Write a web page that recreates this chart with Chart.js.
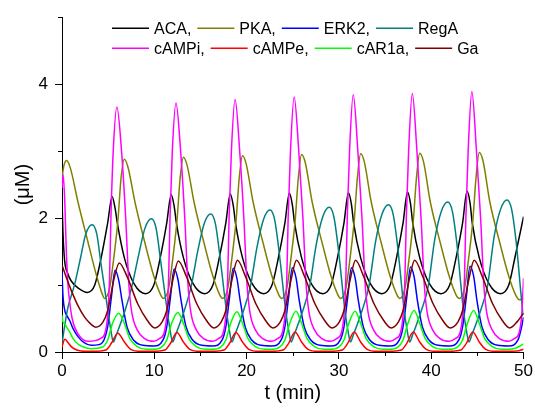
<!DOCTYPE html>
<html>
<head>
<meta charset="utf-8">
<script src="https://cdn.jsdelivr.net/npm/chart.js@4.4.1/dist/chart.umd.min.js"></script>
<style>
  body { margin: 0; background: #fff; }
  #wrap { width: 535px; height: 414px; }
</style>
</head>
<body>
<div id="wrap"><canvas id="chart" width="535" height="414"></canvas></div>
<script>
// series names as in the legend
const seriesNames = ['ACA,', 'PKA,', 'ERK2,', 'RegA', 'cAMPi,', 'cAMPe,', 'cAR1a,', 'Ga'];
const seriesColors = ['#000000', '#808000', '#0000ff', '#008080', '#ff00ff', '#ff0000', '#00ff00', '#800000'];

// [t (min), concentration (uM)]
const ACA = [[0,2.3],[0.1,1.8],[0.29,1.36],[0.6,1.18],[1.0,1.06],[1.8,0.95],[2.75,0.89],
  [3.55,1.0],[4.2,1.38],[4.95,1.93],[5.43,2.32],[5.75,2.15],[6.0,1.92],[6.75,1.41],[7.8,1.02],[9.05,0.87],
  [9.95,1.0],[10.6,1.38],[11.35,1.93],[11.83,2.35],[12.15,2.18],[12.4,1.92],[13.15,1.41],[14.2,1.02],[15.45,0.87],
  [16.35,1.0],[17.0,1.38],[17.75,1.93],[18.23,2.36],[18.55,2.19],[18.8,1.92],[19.55,1.41],[20.6,1.02],[21.85,0.87],
  [22.75,1.0],[23.4,1.38],[24.15,1.93],[24.63,2.37],[24.95,2.2],[25.2,1.92],[25.95,1.41],[27.0,1.02],[28.25,0.87],
  [29.15,1.0],[29.8,1.38],[30.55,1.93],[31.03,2.38],[31.35,2.21],[31.6,1.92],[32.35,1.41],[33.4,1.02],[34.65,0.87],
  [35.55,1.0],[36.2,1.38],[36.95,1.93],[37.43,2.39],[37.75,2.22],[38.0,1.92],[38.75,1.41],[39.8,1.02],[41.05,0.87],
  [42.0,1.0],[42.65,1.38],[43.4,1.93],[43.88,2.4],[44.2,2.23],[44.45,1.92],[45.2,1.41],[46.25,1.02],[47.5,0.87],
  [48.4,1.0],[49.05,1.4],[50,2.02]];

const PKA = [[0,2.6],[0.2,2.78],[0.5,2.86],[0.9,2.75],[1.73,2.24],[2.8,1.65],[3.7,1.16],[4.4,0.85],
  [4.6,0.8],[5.15,0.95],[5.65,1.45],[6.05,1.95],[6.4,2.6],[6.75,2.88],[7.15,2.76],[7.9,2.24],[9.0,1.62],[9.95,1.13],[10.7,0.85],
  [11.0,0.8],[11.55,0.95],[12.05,1.45],[12.45,1.95],[12.8,2.6],[13.15,2.91],[13.55,2.79],[14.3,2.24],[15.4,1.62],[16.35,1.13],[17.1,0.85],
  [17.4,0.8],[17.95,0.95],[18.45,1.45],[18.85,1.95],[19.2,2.6],[19.55,2.93],[19.95,2.81],[20.7,2.24],[21.8,1.62],[22.75,1.13],[23.5,0.85],
  [23.8,0.8],[24.35,0.95],[24.85,1.45],[25.25,1.95],[25.6,2.6],[25.95,2.95],[26.35,2.83],[27.1,2.24],[28.2,1.62],[29.15,1.13],[29.9,0.85],
  [30.2,0.8],[30.75,0.95],[31.25,1.45],[31.65,1.95],[32.0,2.6],[32.35,2.96],[32.75,2.84],[33.5,2.24],[34.6,1.62],[35.55,1.13],[36.3,0.85],
  [36.6,0.8],[37.15,0.95],[37.65,1.45],[38.05,1.95],[38.4,2.6],[38.75,2.97],[39.15,2.85],[39.9,2.24],[41.0,1.62],[41.95,1.13],[42.7,0.85],
  [43.05,0.8],[43.6,0.95],[44.1,1.45],[44.5,1.95],[44.85,2.6],[45.2,2.98],[45.6,2.86],[46.35,2.24],[47.45,1.62],[48.4,1.13],[49.15,0.85],
  [49.55,0.78],[50,0.8]];

const ERK2 = [[0,1.2],[0.1,0.85],[0.3,0.62],[0.5,0.55],[0.83,0.47],[1.2,0.35],[1.73,0.23],[2.4,0.14],[3.16,0.1],[4.0,0.11],
  [4.55,0.18],[4.95,0.38],[5.35,0.82],[5.75,1.22],[6.15,1.07],[6.5,0.77],[7.05,0.37],[7.75,0.18],[8.75,0.1],[9.95,0.09],
  [10.95,0.18],[11.35,0.38],[11.75,0.82],[12.15,1.24],[12.55,1.09],[12.9,0.77],[13.45,0.37],[14.15,0.18],[15.15,0.1],[16.35,0.09],
  [17.35,0.18],[17.75,0.38],[18.15,0.82],[18.55,1.25],[18.95,1.1],[19.3,0.77],[19.85,0.37],[20.55,0.18],[21.55,0.1],[22.75,0.09],
  [23.75,0.18],[24.15,0.38],[24.55,0.82],[24.95,1.26],[25.35,1.11],[25.7,0.77],[26.25,0.37],[26.95,0.18],[27.95,0.1],[29.15,0.09],
  [30.15,0.18],[30.55,0.38],[30.95,0.82],[31.35,1.26],[31.75,1.11],[32.1,0.77],[32.65,0.37],[33.35,0.18],[34.35,0.1],[35.55,0.09],
  [36.55,0.18],[36.95,0.38],[37.35,0.82],[37.75,1.27],[38.15,1.12],[38.5,0.77],[39.05,0.37],[39.75,0.18],[40.75,0.1],[41.95,0.09],
  [43.0,0.18],[43.4,0.38],[43.8,0.82],[44.2,1.28],[44.6,1.13],[44.95,0.77],[45.5,0.37],[46.2,0.18],[47.2,0.1],[48.4,0.09],
  [49.4,0.18],[49.8,0.38],[50,0.52]];

const RegA = [[0,0.12],[0.3,0.4],[0.65,0.67],[1.37,1.01],[2.0,1.4],[2.57,1.76],[3.27,1.9],[3.77,1.76],[4.24,1.3],[4.97,0.62],[5.32,0.3],[5.57,0.15],
  [5.87,0.25],[6.83,0.62],[7.57,0.98],[8.29,1.44],[8.99,1.85],[9.69,1.99],[10.19,1.85],[10.66,1.39],[11.39,0.62],[11.74,0.3],[11.99,0.15],
  [12.29,0.25],[13.25,0.62],[13.99,0.98],[14.71,1.51],[15.41,1.92],[16.11,2.06],[16.61,1.92],[17.08,1.46],[17.81,0.62],[18.16,0.3],[18.41,0.15],
  [18.71,0.25],[19.67,0.62],[20.41,0.98],[21.13,1.57],[21.83,1.98],[22.53,2.12],[23.03,1.98],[23.5,1.52],[24.23,0.62],[24.58,0.3],[24.83,0.15],
  [25.13,0.25],[26.09,0.62],[26.83,0.98],[27.55,1.61],[28.25,2.02],[28.95,2.16],[29.45,2.02],[29.92,1.56],[30.65,0.62],[31.0,0.3],[31.25,0.15],
  [31.55,0.25],[32.51,0.62],[33.25,0.98],[33.97,1.65],[34.67,2.06],[35.37,2.2],[35.87,2.06],[36.34,1.6],[37.07,0.62],[37.42,0.3],[37.67,0.15],
  [37.97,0.25],[38.93,0.62],[39.67,0.98],[40.39,1.69],[41.09,2.1],[41.79,2.24],[42.29,2.1],[42.76,1.64],[43.49,0.62],[43.84,0.3],[44.09,0.15],
  [44.39,0.25],[45.35,0.62],[46.09,0.98],[46.81,1.72],[47.51,2.13],[48.21,2.27],[48.71,2.13],[49.18,1.67],[49.91,0.62],[50,0.55]];

const cAMPi = [[0,2.45],[0.12,2.65],[0.3,2.25],[0.47,1.5],[0.65,1.0],[0.83,0.75],[1.1,0.5],[1.4,0.36],[2.0,0.22],[2.8,0.16],[3.6,0.17],
  [4.15,0.2],[4.65,0.28],[4.95,0.55],[5.15,1.1],[5.3,2.0],[5.55,3.0],[5.95,3.66],[6.45,3.0],[6.9,2.0],[7.25,1.0],[7.55,0.6],[8.15,0.33],[8.95,0.2],[9.95,0.16],
  [10.55,0.2],[11.05,0.28],[11.35,0.55],[11.55,1.1],[11.7,2.0],[11.95,3.0],[12.35,3.72],[12.85,3.0],[13.3,2.0],[13.65,1.0],[13.95,0.6],[14.55,0.33],[15.35,0.2],[16.35,0.16],
  [16.95,0.2],[17.45,0.28],[17.75,0.55],[17.95,1.1],[18.1,2.0],[18.35,3.0],[18.75,3.77],[19.25,3.0],[19.7,2.0],[20.05,1.0],[20.35,0.6],[20.95,0.33],[21.75,0.2],[22.75,0.16],
  [23.35,0.2],[23.85,0.28],[24.15,0.55],[24.35,1.1],[24.5,2.0],[24.75,3.0],[25.15,3.81],[25.65,3.0],[26.1,2.0],[26.45,1.0],[26.75,0.6],[27.35,0.33],[28.15,0.2],[29.15,0.16],
  [29.75,0.2],[30.25,0.28],[30.55,0.55],[30.75,1.1],[30.9,2.0],[31.15,3.0],[31.55,3.84],[32.05,3.0],[32.5,2.0],[32.85,1.0],[33.15,0.6],[33.75,0.33],[34.55,0.2],[35.55,0.16],
  [36.15,0.2],[36.65,0.28],[36.95,0.55],[37.15,1.1],[37.3,2.0],[37.55,3.0],[37.95,3.86],[38.45,3.0],[38.9,2.0],[39.25,1.0],[39.55,0.6],[40.15,0.33],[40.95,0.2],[41.95,0.16],
  [42.6,0.2],[43.1,0.28],[43.4,0.55],[43.6,1.1],[43.75,2.0],[44.0,3.0],[44.4,3.89],[44.9,3.0],[45.35,2.0],[45.7,1.0],[46.0,0.6],[46.6,0.33],[47.4,0.2],[48.4,0.16],
  [49.0,0.2],[49.5,0.28],[49.8,0.55],[50,1.1]];

const cAMPe = [[0,0.07],[0.15,0.15],[0.32,0.19],[0.6,0.15],[1.0,0.08],[1.6,0.03],[2.5,0.01],[3.5,0.01],
  [4.75,0.03],[5.35,0.13],[6.05,0.28],[6.75,0.15],[7.45,0.04],[8.45,0.01],
  [9.85,0.01],[11.15,0.03],[11.75,0.13],[12.45,0.29],[13.15,0.15],[13.85,0.04],[14.85,0.01],
  [16.25,0.01],[17.55,0.03],[18.15,0.13],[18.85,0.29],[19.55,0.15],[20.25,0.04],[21.25,0.01],
  [22.65,0.01],[23.95,0.03],[24.55,0.13],[25.25,0.3],[25.95,0.15],[26.65,0.04],[27.65,0.01],
  [29.05,0.01],[30.35,0.03],[30.95,0.13],[31.65,0.3],[32.35,0.15],[33.05,0.04],[34.05,0.01],
  [35.45,0.01],[36.75,0.03],[37.35,0.13],[38.05,0.3],[38.75,0.15],[39.45,0.04],[40.45,0.01],
  [41.9,0.01],[43.2,0.03],[43.8,0.13],[44.5,0.3],[45.2,0.15],[45.9,0.04],[46.9,0.01],
  [48.3,0.01],[49.5,0.02],[50,0.04]];

const cAR1a = [[0,0.55],[0.1,0.45],[0.3,0.42],[0.55,0.36],[0.83,0.3],[1.2,0.2],[1.73,0.12],[2.4,0.07],[3.16,0.05],
  [4.35,0.07],[4.95,0.18],[5.45,0.42],[6.15,0.58],[6.75,0.43],[7.35,0.2],[8.15,0.08],[9.15,0.04],
  [9.85,0.04],[10.75,0.07],[11.35,0.18],[11.85,0.42],[12.55,0.59],[13.15,0.43],[13.75,0.2],[14.55,0.08],[15.55,0.04],
  [16.25,0.04],[17.15,0.07],[17.75,0.18],[18.25,0.42],[18.95,0.6],[19.55,0.43],[20.15,0.2],[20.95,0.08],[21.95,0.04],
  [22.65,0.04],[23.55,0.07],[24.15,0.18],[24.65,0.42],[25.35,0.61],[25.95,0.43],[26.55,0.2],[27.35,0.08],[28.35,0.04],
  [29.05,0.04],[29.95,0.07],[30.55,0.18],[31.05,0.42],[31.75,0.61],[32.35,0.43],[32.95,0.2],[33.75,0.08],[34.75,0.04],
  [35.45,0.04],[36.35,0.07],[36.95,0.18],[37.45,0.42],[38.15,0.62],[38.75,0.43],[39.35,0.2],[40.15,0.08],[41.15,0.04],
  [41.9,0.04],[42.8,0.07],[43.4,0.18],[43.9,0.42],[44.6,0.62],[45.2,0.43],[45.8,0.2],[46.6,0.08],[47.6,0.04],
  [48.3,0.04],[49.2,0.06],[50,0.12]];

const Ga = [[0,1.3],[0.1,1.26],[0.5,1.1],[1.0,0.92],[1.7,0.7],[2.45,0.52],[3.1,0.42],[3.65,0.37],
  [4.45,0.45],[4.95,0.62],[5.65,1.1],[6.2,1.33],[7.1,1.11],[8.2,0.72],[9.25,0.47],[10.05,0.36],
  [10.85,0.45],[11.35,0.62],[12.05,1.1],[12.6,1.36],[13.5,1.12],[14.6,0.72],[15.65,0.47],[16.45,0.36],
  [17.25,0.45],[17.75,0.62],[18.45,1.1],[19.0,1.37],[19.9,1.12],[21.0,0.72],[22.05,0.47],[22.85,0.36],
  [23.65,0.45],[24.15,0.62],[24.85,1.1],[25.4,1.37],[26.3,1.12],[27.4,0.72],[28.45,0.47],[29.25,0.36],
  [30.05,0.45],[30.55,0.62],[31.25,1.1],[31.8,1.37],[32.7,1.12],[33.8,0.72],[34.85,0.47],[35.65,0.36],
  [36.45,0.45],[36.95,0.62],[37.65,1.1],[38.2,1.37],[39.1,1.12],[40.2,0.72],[41.25,0.47],[42.05,0.36],
  [42.9,0.45],[43.4,0.62],[44.1,1.1],[44.65,1.37],[45.55,1.12],[46.65,0.72],[47.7,0.47],[48.5,0.36],
  [49.3,0.45],[50,0.58]];

const xTicks = [0, 10, 20, 30, 40, 50];
const xMinor = [5, 15, 25, 35, 45];
const yTicks = [0, 2, 4];
const yMinor = [1, 3, 5];

const allSeries = [ACA, PKA, ERK2, RegA, cAMPi, cAMPe, cAR1a, Ga];
const FONT = "'Liberation Sans', Arial, sans-serif";

const datasets = allSeries.map((s, i) => ({
    label: seriesNames[i],
    data: s.map(p => ({ x: p[0], y: p[1] })),
    borderColor: seriesColors[i],
    backgroundColor: seriesColors[i],
    borderWidth: 1.5,
    pointRadius: 0,
    fill: false,
    cubicInterpolationMode: 'monotone',
    order: allSeries.length - i
}));

// minor ticks (shorter than the major ones) drawn after the axes
const minorTicks = {
    id: 'minorTicks',
    afterDraw(chart) {
        const ctx = chart.ctx;
        const xs = chart.scales.x, ys = chart.scales.y;
        ctx.save();
        ctx.strokeStyle = '#000';
        ctx.lineWidth = 1;
        ctx.beginPath();
        xMinor.forEach(v => {
            const px = Math.round(xs.getPixelForValue(v)) + 0.5;
            ctx.moveTo(px, ys.bottom);
            ctx.lineTo(px, ys.bottom + 4);
        });
        yMinor.forEach(v => {
            const py = Math.round(ys.getPixelForValue(v)) + 0.5;
            ctx.moveTo(xs.left, py);
            ctx.lineTo(xs.left - 4, py);
        });
        ctx.stroke();
        ctx.restore();
    }
};

// two-row legend inside the top of the plot
const legendRows = {
    id: 'legendRows',
    afterDraw(chart) {
        const ctx = chart.ctx;
        const area = chart.chartArea;
        ctx.save();
        ctx.font = '16px ' + FONT;
        ctx.textBaseline = 'middle';
        const rows = [[0, 1, 2, 3], [4, 5, 6, 7]];
        rows.forEach((row, r) => {
            let x = area.left + 50;
            const y = area.top + 11 + r * 20;
            row.forEach(i => {
                ctx.strokeStyle = seriesColors[i];
                ctx.lineWidth = 1.5;
                ctx.beginPath();
                ctx.moveTo(x, y);
                ctx.lineTo(x + 37, y);
                ctx.stroke();
                x += 42;
                ctx.fillStyle = '#000';
                ctx.fillText(seriesNames[i], x, y + 1);
                x += ctx.measureText(seriesNames[i]).width + 6;
            });
        });
        ctx.restore();
    }
};

new Chart(document.getElementById('chart').getContext('2d'), {
    type: 'line',
    data: { datasets: datasets },
    options: {
        responsive: false,
        animation: false,
        layout: { padding: { left: 0, right: 10, top: 13, bottom: 0 } },
        plugins: {
            legend: { display: false },
            tooltip: { enabled: false }
        },
        scales: {
            x: {
                type: 'linear',
                min: 0,
                max: 50,
                afterBuildTicks: s => { s.ticks = xTicks.map(v => ({ value: v })); },
                ticks: { color: '#000', font: { size: 17, family: FONT }, padding: 2, maxRotation: 0 },
                grid: { drawOnChartArea: false, tickLength: 7, tickColor: '#000' },
                border: { color: '#000', width: 1 },
                title: { display: true, text: 't (min)', color: '#000', font: { size: 20, family: FONT }, padding: { top: 0, bottom: 9 } },
                afterFit: s => { s.height = 62; }
            },
            y: {
                type: 'linear',
                min: 0,
                max: 5,
                afterBuildTicks: s => { s.ticks = yTicks.map(v => ({ value: v })); },
                ticks: { color: '#000', font: { size: 17, family: FONT }, padding: 7 },
                grid: { drawOnChartArea: false, tickLength: 7, tickColor: '#000' },
                border: { color: '#000', width: 1 },
                title: { display: true, text: '(\u03bcM)', color: '#000', font: { size: 20, family: FONT }, padding: { top: 11, bottom: 0 } },
                afterFit: s => { s.width = 62; }
            }
        }
    },
    plugins: [minorTicks, legendRows]
});
</script>
</body>
</html>
